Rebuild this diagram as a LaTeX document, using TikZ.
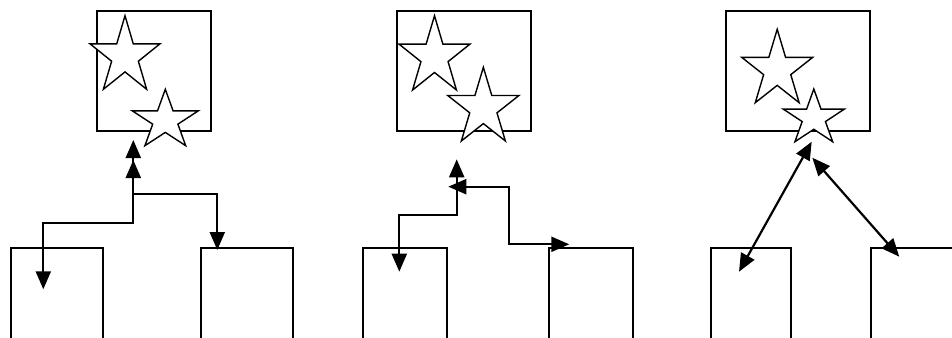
\documentclass[tikz,border=0pt]{standalone}
\usetikzlibrary{arrows.meta}
\tikzset{
  boxstyle/.style={draw=black, line width=1.8pt, fill=none, inner sep=0pt, anchor=north west},
  starstyle/.style={draw=black, line width=1.4pt, fill=white, line join=miter},
  tip/.tip={Triangle[length=18pt,width=15pt]},
  conn/.style={line width=2.2pt, tip-tip}
}
\newcommand\mystarshape[4]{%
  \begin{scope}[shift={(#1,#2)}, xscale=#3, yscale=#4]
    \draw[starstyle] (0.5,0) -- (0.618,0.382) -- (1,0.382) -- (0.691,0.618) -- (0.809,1)
      -- (0.5,0.764) -- (0.191,1) -- (0.309,0.618) -- (0,0.382) -- (0.382,0.382) -- cycle;
  \end{scope}}
\begin{document}
\begin{tikzpicture}[x=1pt, y=-1pt]
\useasboundingbox (0,0) rectangle (952,337);
\clip (0,0) rectangle (952,337);
\fill[white] (0,0) rectangle (952,337);
% ---------- panel 1 ----------
\node[boxstyle, minimum width=114pt, minimum height=120pt] (t1) at (96,10) {};
\mystarshape{90}{15.7}{70}{73.6}
\mystarshape{132.3}{89.3}{66}{56.4}
\node[boxstyle, minimum width=92pt, minimum height=120pt] (l1) at (9.7,246.7) {};
\node[boxstyle, minimum width=92.3pt, minimum height=120pt] (r1) at (200,246.7) {};
\coordinate (a1s) at (43.3,289.3);
\coordinate (a1b) at (133.3,223.3);
\coordinate (a1e) at (133.3,140);
\coordinate (b1s) at (217.3,250);
\coordinate (b1b) at (133.3,194.3);
\coordinate (b1e) at (133.3,160);
\draw[conn] (a1s) |- (a1b) -- (a1e);
\draw[conn] (b1s) |- (b1b) -- (b1e);
% ---------- panel 2 ----------
\node[boxstyle, minimum width=134pt, minimum height=120pt] (t2) at (396,10) {};
\mystarshape{399}{15.7}{71}{74.3}
\mystarshape{447.7}{67.3}{71.3}{73.7}
\node[boxstyle, minimum width=84.3pt, minimum height=120pt] (l2) at (361.7,246.7) {};
\node[boxstyle, minimum width=84.6pt, minimum height=120pt] (r2) at (547.7,246.7) {};
\coordinate (a2s) at (399.3,271.7);
\coordinate (a2b) at (456.7,215);
\coordinate (a2e) at (456.7,159.3);
\coordinate (b2s) at (569.3,244.3);
\coordinate (b2b) at (509.3,186.7);
\coordinate (b2e) at (448.3,186.7);
\draw[conn] (a2s) |- (a2b) -- (a2e);
\draw[conn] (b2s) -| (b2b) -- (b2e);
% ---------- panel 3 ----------
\node[boxstyle, minimum width=144pt, minimum height=120pt] (t3) at (725,10) {};
\mystarshape{741.7}{29.3}{71}{73.4}
\mystarshape{783.3}{89}{61}{52.7}
\node[boxstyle, minimum width=80.3pt, minimum height=120pt] (l3) at (709.7,246.7) {};
\node[boxstyle, minimum width=120pt, minimum height=120pt] (r3) at (870,246.7) {};
\coordinate (a3s) at (811.7,141.7);
\coordinate (a3e) at (739,271.7);
\coordinate (b3s) at (812.3,157.7);
\coordinate (b3e) at (899.3,256.7);
\draw[conn] (a3s) -- (a3e);
\draw[conn] (b3s) -- (b3e);
\end{tikzpicture}
\end{document}
